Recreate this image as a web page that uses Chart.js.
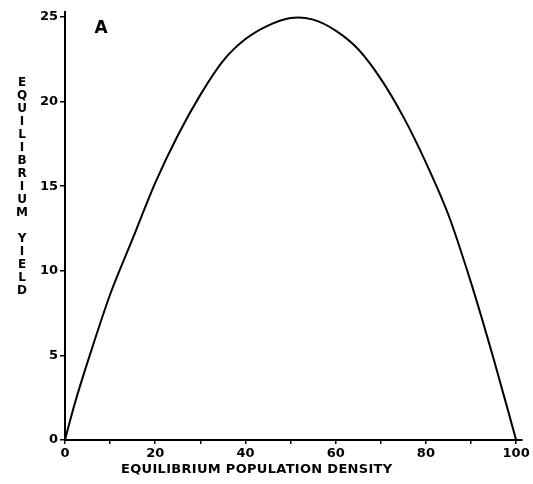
<!DOCTYPE html>
<html>
<head>
<meta charset="utf-8">
<script src="https://cdn.jsdelivr.net/npm/chart.js@4/dist/chart.umd.min.js"></script>
<style>
  html, body { margin: 0; padding: 0; background: #fff; }
  #wrap { width: 533px; height: 484px; position: relative; }
</style>
</head>
<body>
<div id="wrap"><canvas id="c" width="533" height="484"></canvas></div>
<script>
// Data
const density = [0, 2, 5, 10, 15, 20, 25, 30, 35, 40, 45, 50, 55, 60, 65, 70, 75, 80, 85, 90, 95, 100];
const yieldVals = [0, 2.0, 4.6, 8.6, 11.9, 15.2, 18.0, 20.4, 22.4, 23.7, 24.5, 24.95, 24.85, 24.2, 23.1, 21.35, 19.1, 16.4, 13.3, 9.3, 4.8, 0];
const xTickLabels = [0, 20, 40, 60, 80, 100];
const yTickLabels = [0, 5, 10, 15, 20, 25];
const xTitle = "EQUILIBRIUM POPULATION DENSITY";
const yTitle = "EQUILIBRIUM YIELD";
const panelLabel = "A";

const points = density.map((d, i) => ({ x: d, y: yieldVals[i] }));
const FONT = "'DejaVu Sans', sans-serif";

const textPlugin = {
  id: 'texts',
  afterDraw(chart) {
    const ctx = chart.ctx;
    const xs = chart.scales.x, ys = chart.scales.y;
    ctx.save();
    ctx.fillStyle = '#000';
    // x title
    ctx.font = "bold 13px " + FONT;
    ctx.textAlign = 'center';
    ctx.textBaseline = 'middle';
    try { ctx.letterSpacing = '0.3px'; } catch (e) {}
    ctx.fillText(xTitle, xs.getPixelForValue(42.5), 470);
    try { ctx.letterSpacing = '0px'; } catch (e) {}
    // y title stacked letters
    ctx.font = "bold 12px " + FONT;
    const chars = yTitle.split('');
    const y0 = 83;
    chars.forEach((ch, i) => {
      if (ch !== ' ') ctx.fillText(ch, 22, y0 + i * 13);
    });
    // panel label
    ctx.font = "bold 17px " + FONT;
    ctx.fillText(panelLabel, xs.getPixelForValue(8), ys.getPixelForValue(24.3));
    ctx.restore();
  }
};

new Chart(document.getElementById('c'), {
  type: 'scatter',
  data: {
    datasets: [{
      data: points,
      showLine: true,
      borderColor: '#000',
      borderWidth: 2,
      pointRadius: 0,
      tension: 0.3,
      fill: false
    }]
  },
  options: {
    responsive: false,
    animation: false,
    devicePixelRatio: 1,
    layout: { padding: { left: 0, top: 12, right: 11, bottom: 0 } },
    plugins: { legend: { display: false }, tooltip: { enabled: false } },
    scales: {
      x: {
        type: 'linear',
        min: 0, max: 101.3,
        afterFit(s) { s.height = 44; },
        afterBuildTicks(s) {
          const t = [];
          for (let v = 0; v <= 100; v += 10) t.push({ value: v });
          s.ticks = t;
        },
        border: { display: true, color: '#000', width: 2 },
        grid: { drawOnChartArea: false, drawTicks: true, tickLength: 4, color: '#000', lineWidth: 1.5 },
        ticks: {
          color: '#000',
          font: { family: FONT, weight: 'bold', size: 13 },
          padding: 2,
          maxRotation: 0,
          autoSkip: false,
          callback: (v) => xTickLabels.includes(v) ? String(v) : ''
        }
      },
      y: {
        type: 'linear',
        min: 0, max: 25.3,
        afterFit(s) { s.width = 65; },
        afterBuildTicks(s) { s.ticks = yTickLabels.map(v => ({ value: v })); },
        border: { display: true, color: '#000', width: 2 },
        grid: { drawOnChartArea: false, drawTicks: true, tickLength: 5, color: '#000', lineWidth: 1.5 },
        ticks: {
          color: '#000',
          font: { family: FONT, weight: 'bold', size: 13 },
          padding: 2,
          autoSkip: false,
          callback: (v) => String(v)
        }
      }
    }
  },
  plugins: [textPlugin]
});
</script>
</body>
</html>
